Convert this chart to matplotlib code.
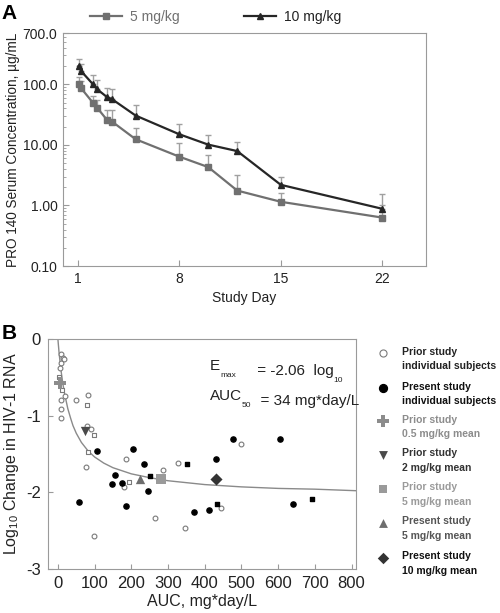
import numpy as np
import matplotlib.pyplot as plt
from matplotlib.ticker import LogLocator, NullFormatter

plt.rcParams['font.family'] = ['Liberation Sans', 'DejaVu Sans']
plt.rcParams['mathtext.fontset'] = 'custom'
plt.rcParams['mathtext.rm'] = 'Liberation Sans'
plt.rcParams['mathtext.it'] = 'Liberation Sans:italic'

#panel A: serum concentration by study day
days = [1.07, 1.25, 2.05, 2.35, 3.05, 3.37, 5, 8, 10, 12, 15, 22]
conc5 = [100, 86, 50, 41, 25.5, 24.3, 12.4, 6.4, 4.3, 1.76, 1.15, 0.63]
upper5 = [133, 113, 64, 55, 37, 37, 18.7, 10.6, 6.8, 3.14, 1.6, 1.03]
conc10 = [199, 165, 101, 83, 61, 57, 30.5, 15, 10.1, 7.9, 2.19, 0.88]
upper10 = [259, 214, 144, 116, 86, 83, 45.5, 22.5, 14.3, 11.2, 3.0, 1.55]
day_ticks = [1, 8, 15, 22]
conc_ticks = [0.1, 1, 10, 100, 700]
conc_labels = ['0.10', '1.00', '10.00', '100.0', '700.0']

#panel B: AUC vs change in HIV-1 RNA
prior_auc = [9, 13.7, 7.4, 4.6, 18, 7.4, 48, 82, 7.4, 9, 78, 89, 77, 184.5, 180, 328, 285, 264, 345, 98, 444, 500, 15.5]
prior_chg = [-0.20, -0.25, -0.31, -0.38, -0.75, -0.80, -0.80, -0.73, -0.92, -1.03, -1.13, -1.18, -1.67, -1.57, -1.93, -1.62, -1.71, -2.33, -2.47, -2.57, -2.20, -1.37, -0.26]
prior_sq_auc = [2.8, 11, 80, 98, 82, 193]
prior_sq_chg = [-0.49, -0.66, -0.86, -1.25, -1.47, -1.87]
present_auc = [107.5, 204.5, 155, 148, 175, 245, 234.5, 430, 477, 604.5, 57, 186, 371, 412, 641]
present_chg = [-1.46, -1.44, -1.77, -1.89, -1.88, -1.98, -1.63, -1.57, -1.30, -1.30, -2.13, -2.18, -2.26, -2.23, -2.15]
present_sq_auc = [250, 352, 434, 691]
present_sq_chg = [-1.79, -1.63, -2.16, -2.09]

mean_auc = [7, 74, 282, 224.5, 430]
mean_chg = [-0.57, -1.20, -1.83, -1.83, -1.83]
mean_names = ['Prior study\n0.5 mg/kg mean', 'Prior study\n2 mg/kg mean', 'Prior study\n5 mg/kg mean',
              'Present study\n5 mg/kg mean', 'Present study\n10 mg/kg mean']
mean_markers = ['P', 'v', 's', '^', 'D']
mean_sizes = [75, 45, 45, 45, 38]
mean_colors = ['#8c8c8c', '#4a4a4a', '#9a9a9a', '#6e6e6e', '#333333']
mean_text_colors = ['#8c8c8c', '#333333', '#9a9a9a', '#555555', '#111111']

#fitted Emax curve
fit_auc = [0, 1, 3, 6, 9, 13, 18, 27, 35, 41, 50, 64, 82, 100, 125, 150, 200, 250, 300, 400, 500, 600, 700, 812]
fit_chg = [0, -0.06, -0.17, -0.31, -0.43, -0.57, -0.71, -0.91, -1.04, -1.13, -1.23, -1.35, -1.46, -1.54,
           -1.62, -1.68, -1.76, -1.81, -1.85, -1.90, -1.93, -1.95, -1.96, -1.98]
auc_ticks = list(range(0, 801, 100))
chg_ticks = [0, -1, -2, -3]

spine_col = '#9a9a9a'
fig = plt.figure(figsize=(5, 6.13), dpi=100)

# ---------- panel A
axA = fig.add_axes([0.126, 0.566, 0.726, 0.380])
err5 = [np.zeros(len(conc5)), np.array(upper5) - np.array(conc5)]
err10 = [np.zeros(len(conc10)), np.array(upper10) - np.array(conc10)]
axA.errorbar(days, conc5, yerr=err5, fmt='none', ecolor='#a0a0a0', elinewidth=1, capsize=2.3, capthick=1)
axA.errorbar(days, conc10, yerr=err10, fmt='none', ecolor='#a0a0a0', elinewidth=1, capsize=2.3, capthick=1)
axA.plot(days, conc5, color='#707070', lw=1.6, marker='s', ms=4, label='5 mg/kg')
axA.plot(days, conc10, color='#262626', lw=1.6, marker='^', ms=4.5, label='10 mg/kg')
axA.set_yscale('log')
axA.set_ylim(0.1, 700)
axA.set_xlim(0, 25)
axA.set_yticks(conc_ticks)
axA.set_yticklabels(conc_labels)
axA.yaxis.set_minor_locator(LogLocator(base=10, subs=np.arange(2, 10)))
axA.yaxis.set_minor_formatter(NullFormatter())
axA.set_xticks(day_ticks)
axA.tick_params(direction='in', colors=spine_col, labelcolor='#222222', labelsize=10, length=4, pad=4)
axA.tick_params(which='minor', direction='in', colors=spine_col, length=2.5)
for s in axA.spines.values():
    s.set_color(spine_col)
axA.set_xlabel('Study Day', fontsize=10, color='#222222', labelpad=4)
axA.set_ylabel('PRO 140 Serum Concentration, µg/mL', fontsize=9.8, color='#222222', labelpad=2)
axA.legend(ncol=2, loc='center', bbox_to_anchor=(0.42, 1.07), frameon=False, fontsize=10,
           handlelength=2.3, handletextpad=0.6, columnspacing=4.6, labelcolor=['#707070', '#222222'])
fig.text(0.003, 0.978, 'A', fontsize=15, fontweight='bold', va='center')

# ---------- panel B
axB = fig.add_axes([0.096, 0.072, 0.616, 0.375])
axB.plot(fit_auc, fit_chg, color='#8a8a8a', lw=1)
axB.scatter(prior_auc, prior_chg, marker='o', s=12, facecolors='white', edgecolors='#7a7a7a', linewidths=0.8, zorder=3)
axB.scatter(prior_sq_auc, prior_sq_chg, marker='s', s=10, facecolors='white', edgecolors='#7a7a7a', linewidths=0.8, zorder=3)
axB.scatter(present_auc, present_chg, marker='o', s=14, color='black', zorder=3)
axB.scatter(present_sq_auc, present_sq_chg, marker='s', s=11, color='black', zorder=3)
for a, c, m, sz, col in zip(mean_auc, mean_chg, mean_markers, mean_sizes, mean_colors):
    axB.scatter(a, c, marker=m, s=sz, color=col, zorder=4, linewidths=0)
axB.set_xlim(-27, 812)
axB.set_ylim(-3, 0)
axB.set_xticks(auc_ticks)
axB.set_yticks(chg_ticks)
axB.set_yticklabels(['0', '-1', '-2', '-3'])
axB.tick_params(direction='in', colors=spine_col, labelcolor='#222222', labelsize=12, length=3.5, pad=5)
for s in axB.spines.values():
    s.set_color(spine_col)
axB.set_xlabel('AUC, mg*day/L', fontsize=11.5, color='#222222', labelpad=2)
axB.set_ylabel(r'Log$_{10}$ Change in HIV-1 RNA', fontsize=11.5, color='#222222', labelpad=4)

#parameter text with small subscripts, chained piece by piece
def chain(parts, x, y):
    t = axB.text(x, y, parts[0][0], transform=axB.transAxes, fontsize=parts[0][1],
                 va='baseline', color='#222222')
    for s, fs, dy in parts[1:]:
        t = axB.annotate(s, xycoords=t, xy=(1, 0), xytext=(0, dy), textcoords='offset points',
                         fontsize=fs, va='baseline', color='#222222')

chain([('E', 11, 0), ('max', 6, -3), ('     = -2.06  log', 11, 3), ('10', 6, -3)], 0.526, 0.865)
chain([('AUC', 11, 0), ('50', 6, -3), ('  = 34 mg*day/L', 11, 3)], 0.526, 0.735)
fig.text(0.003, 0.456, 'B', fontsize=15, fontweight='bold', va='center')

#legend for panel B, drawn by hand so the marker sits at the first text line
leg_y = [0.939, 0.787, 0.643, 0.496, 0.348, 0.200, 0.048]
leg_names = ['Prior study\nindividual subjects', 'Present study\nindividual subjects'] + mean_names
leg_text_cols = ['#222222', '#111111'] + mean_text_colors
mx, tx = 1.088, 1.149
axB.scatter([mx], [leg_y[0]], transform=axB.transAxes, marker='o', s=26, facecolors='white',
            edgecolors='#7a7a7a', linewidths=0.8, clip_on=False)
axB.scatter([mx], [leg_y[1]], transform=axB.transAxes, marker='o', s=32, color='black', clip_on=False)
for y, m, sz, col in zip(leg_y[2:], mean_markers, mean_sizes, mean_colors):
    axB.scatter([mx], [y], transform=axB.transAxes, marker=m, s=sz * 0.9, color=col, linewidths=0, clip_on=False)
for y, name, col in zip(leg_y, leg_names, leg_text_cols):
    axB.text(tx, y + 0.028, name, transform=axB.transAxes, fontsize=7.5, fontweight='bold',
             color=col, va='top', ha='left', linespacing=1.6)

fig.savefig('out.png', dpi=100)
